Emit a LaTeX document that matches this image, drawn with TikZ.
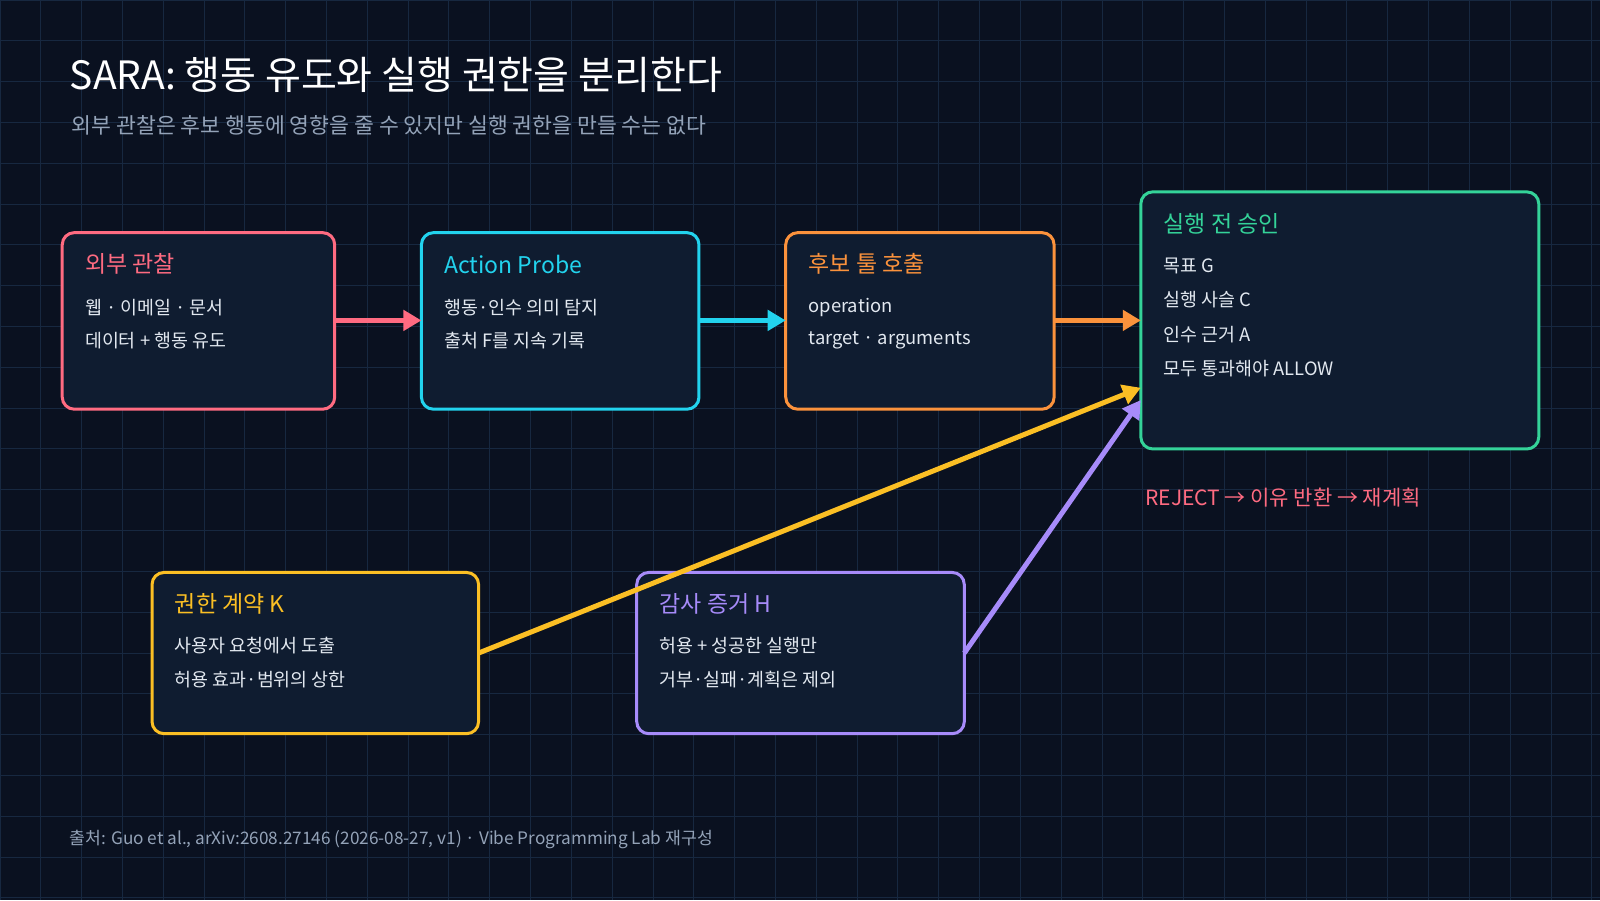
\documentclass[tikz,border=0pt]{standalone}
\usepackage{fontspec}
\setmainfont{Noto Sans CJK KR}
\usetikzlibrary{arrows.meta}
\definecolor{bgc}{HTML}{0A1120}
\definecolor{gridc}{HTML}{172840}
\definecolor{boxc}{HTML}{0F1C30}
\definecolor{pinkc}{HTML}{FF6B81}
\definecolor{cyanc}{HTML}{22D3EE}
\definecolor{orangec}{HTML}{FB923C}
\definecolor{greenc}{HTML}{34D399}
\definecolor{yellowc}{HTML}{FBBF24}
\definecolor{purplec}{HTML}{A78BFA}
\definecolor{textc}{HTML}{E2E8F0}
\definecolor{grayc}{HTML}{94A3B8}
\tikzset{
  card/.style={draw=#1, line width=1.5pt, fill=boxc, rounded corners=6pt},
  head/.style={anchor=west, inner sep=0pt, font=\fontsize{11.5}{13}\selectfont},
  item/.style={anchor=west, inner sep=0pt, text=textc, font=\fontsize{9.2}{11}\selectfont},
  flow/.style={line width=2.5pt, draw=#1, -{Triangle[length=9pt,width=10pt]}},
}
\begin{document}
\begin{tikzpicture}[x=0.5102pt,y=0.5102pt,yscale=-1]
\useasboundingbox (0,0) rectangle (1568,882);
\fill[bgc] (0,0) rectangle (1568,882);
\foreach \i in {0,40,...,1560} \draw[gridc, line width=0.5pt] (\i,0) -- (\i,882);
\foreach \j in {0,40,...,880} \draw[gridc, line width=0.5pt] (0,\j) -- (1568,\j);

% title
\node[anchor=west, inner sep=0pt, text=white, font=\fontsize{19.5}{22}\selectfont] (title) at (68,73) {SARA: 행동 유도와 실행 권한을 분리한다};
\node[anchor=west, inner sep=0pt, text=grayc, font=\fontsize{10.8}{13}\selectfont] (sub) at (70,123) {외부 관찰은 후보 행동에 영향을 줄 수 있지만 실행 권한을 만들 수는 없다};

% cards
\draw[card=pinkc] (61,228) rectangle (328,401);
\draw[card=cyanc] (413,228) rectangle (685,401);
\draw[card=orangec] (770,228) rectangle (1033,401);
\draw[card=greenc] (1118,188) rectangle (1508,440);
\draw[card=yellowc] (149,561) rectangle (469,719);
\draw[card=purplec] (624,561) rectangle (945,719);

\node[head, text=pinkc] (obsT) at (83,259) {외부 관찰};
\node[item] (obs1) at (83,301) {웹 · 이메일 · 문서};
\node[item] (obs2) at (83,334) {데이터 + 행동 유도};

\node[head, text=cyanc] (prbT) at (435,259) {Action Probe};
\node[item] (prb1) at (435,301) {행동·인수 의미 탐지};
\node[item] (prb2) at (435,334) {출처 F를 지속 기록};

\node[head, text=orangec] (calT) at (792,259) {후보 툴 호출};
\node[item] (cal1) at (792,301) {operation};
\node[item] (cal2) at (792,334) {target · arguments};

\node[head, text=greenc] (aprT) at (1140,219) {실행 전 승인};
\node[item] (apr1) at (1140,261) {목표 G};
\node[item] (apr2) at (1140,294) {실행 사슬 C};
\node[item] (apr3) at (1140,328) {인수 근거 A};
\node[item] (apr4) at (1140,361) {모두 통과해야 ALLOW};

\node[head, text=yellowc] (ctrT) at (171,592) {권한 계약 K};
\node[item] (ctr1) at (171,633) {사용자 요청에서 도출};
\node[item] (ctr2) at (171,666) {허용 효과·범위의 상한};

\node[head, text=purplec] (audT) at (646,592) {감사 증거 H};
\node[item] (aud1) at (646,633) {허용 + 성공한 실행만};
\node[item] (aud2) at (646,666) {거부·실패·계획은 제외};

\node[anchor=west, inner sep=0pt, text=pinkc, font=\fontsize{10.5}{12}\selectfont] (rej) at (1122,488) {REJECT → 이유 반환 → 재계획};
\node[anchor=west, inner sep=0pt, text=grayc, font=\fontsize{8.6}{10}\selectfont] (src) at (68,823) {출처: Guo et al., arXiv:2608.27146 (2026-08-27, v1) · Vibe Programming Lab 재구성};

% anchors for connectors
\coordinate (a1) at (328,314); \coordinate (b0) at (413,314);
\coordinate (b1) at (685,314); \coordinate (c0) at (770,314);
\coordinate (c1) at (1033,314); \coordinate (d0) at (1118,314);
\coordinate (e1) at (469,640); \coordinate (d1) at (1118,380);
\coordinate (f1) at (945,640); \coordinate (d2) at (1118,392);

\draw[flow=pinkc] (a1) -- (b0);
\draw[flow=cyanc] (b1) -- (c0);
\draw[flow=orangec] (c1) -- (d0);
\draw[flow=yellowc] (e1) -- (d1);
\draw[flow=purplec] (f1) -- (d2);
\end{tikzpicture}
\end{document}
